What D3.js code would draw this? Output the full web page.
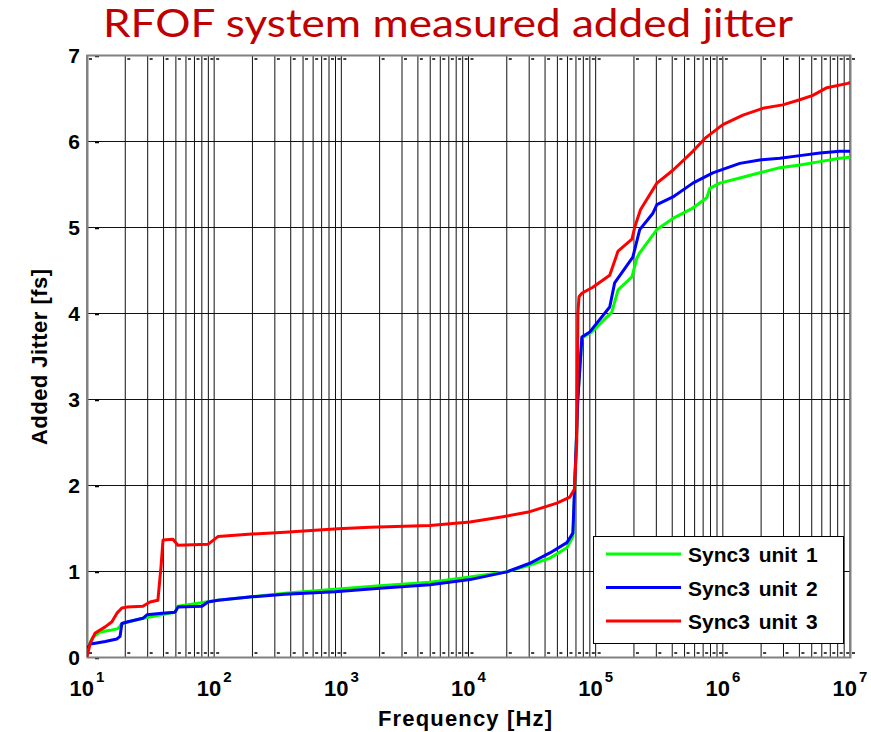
<!DOCTYPE html>
<html>
<head>
<meta charset="utf-8">
<script src="https://cdn.jsdelivr.net/npm/d3@7"></script>
<style>
  body { margin: 0; background: #fff; }
  svg { display: block; }
</style>
</head>
<body>
<div id="chart"></div>
<script>
// Added jitter vs. frequency, three Sync3 units
const seriesNames = ['Sync3 unit 1', 'Sync3 unit 2', 'Sync3 unit 3'];
const seriesColors = ['#00ff00', '#0000ff', '#ff0000'];

// [frequency Hz, added jitter fs]
const unit1 = [
    [10, 0.05], [10.2, 0.12], [11.1, 0.23], [12.7, 0.29], [15.2, 0.31], [17.5, 0.33],
    [18.8, 0.39], [27.5, 0.45], [49.2, 0.52], [51.9, 0.59], [107, 0.66], [198, 0.70],
    [360, 0.74], [940, 0.79], [2010, 0.83], [4980, 0.87], [10260, 0.93], [20040, 0.99],
    [30400, 1.07], [43650, 1.15], [59400, 1.27], [66200, 1.40], [68600, 2.0], [72400, 3.0],
    [77900, 3.71], [93300, 3.78], [134000, 4.01], [150000, 4.27], [193000, 4.42],
    [211000, 4.64], [222000, 4.70], [303000, 4.97], [405000, 5.10], [581000, 5.22],
    [748000, 5.34], [790000, 5.45], [947000, 5.51], [1.36e6, 5.57], [1.95e6, 5.63],
    [2.81e6, 5.69], [4.03e6, 5.72], [5.8e6, 5.76], [8.3e6, 5.80], [1e7, 5.81]
];
const unit2 = [
    [10, 0.10], [10.6, 0.15], [11.6, 0.16], [13.9, 0.18], [17.2, 0.21], [18.2, 0.24],
    [18.8, 0.39], [21.0, 0.41], [27.5, 0.45], [29.6, 0.49], [38.9, 0.51], [49.2, 0.52],
    [51.9, 0.58], [80.2, 0.59], [89.3, 0.64], [107, 0.66], [198, 0.70], [360, 0.73],
    [891, 0.76], [2010, 0.80], [4980, 0.84], [10260, 0.90], [20040, 0.99], [30400, 1.09],
    [43650, 1.21], [59400, 1.33], [66200, 1.44], [68600, 2.06], [72400, 2.99],
    [77900, 3.72], [90000, 3.78], [129000, 4.07], [141000, 4.35], [196000, 4.65],
    [222000, 4.97], [282000, 5.16], [303000, 5.26], [405000, 5.35], [581000, 5.51],
    [834000, 5.63], [1.36e6, 5.74], [1.95e6, 5.78], [2.81e6, 5.80], [4.03e6, 5.83],
    [5.8e6, 5.86], [8.3e6, 5.88], [1e7, 5.88]
];
const unit3 = [
    [10, 0], [10.6, 0.16], [11.6, 0.28], [13.9, 0.35], [15.7, 0.41], [17.2, 0.51],
    [18.8, 0.57], [20.6, 0.58], [27.5, 0.59], [31.3, 0.64], [36.1, 0.66], [38.2, 1.05],
    [39.6, 1.36], [47.4, 1.37], [51.9, 1.30], [89.3, 1.31], [107, 1.40], [198, 1.43],
    [360, 1.45], [940, 1.49], [1680, 1.51], [4980, 1.53], [10260, 1.57], [18620, 1.63],
    [30400, 1.69], [49560, 1.79], [62700, 1.86], [68000, 1.95], [71000, 2.5], [72500, 4.0],
    [74000, 4.19], [77900, 4.23], [95000, 4.30], [129000, 4.44], [150000, 4.72],
    [193000, 4.86], [203000, 5.0], [225000, 5.2], [303000, 5.51], [405000, 5.66],
    [581000, 5.88], [722000, 6.03], [1.0e6, 6.19], [1.44e6, 6.30], [2.06e6, 6.38],
    [2.96e6, 6.42], [4.03e6, 6.48], [5.1e6, 6.53], [6.58e6, 6.62], [9.6e6, 6.67], [1e7, 6.68]
];
const allSeries = [unit1, unit2, unit3];

const yTicks = [0, 1, 2, 3, 4, 5, 6, 7];
const xExponents = [1, 2, 3, 4, 5, 6, 7];

const width = 871, height = 732;
const margin = { top: 55, right: 21, bottom: 75, left: 87 };

const svg = d3.select('#chart').append('svg')
    .attr('width', width)
    .attr('height', height);

const x = d3.scaleLog()
    .domain([10, 1e7])
    .range([margin.left, width - margin.right]);
const y = d3.scaleLinear()
    .domain([0, 7])
    .range([height - margin.bottom, margin.top]);

const x0 = x.range()[0], x1 = x.range()[1];
const y0 = y.range()[0], y1 = y.range()[1];

// minor + major decade positions for the log grid
const gridFreqs = [];
for (let e = 1; e < 7; e++) {
    for (let k = 1; k < 10; k++) gridFreqs.push(k * Math.pow(10, e));
}
gridFreqs.push(1e7);

// Title
svg.append('text')
    .attr('x', 448)
    .attr('y', 37)
    .attr('text-anchor', 'middle')
    .attr('font-family', 'Lato, "Open Sans", sans-serif')
    .attr('font-size', 38)
    .attr('fill', '#c00000')
    .attr('textLength', 690)
    .attr('lengthAdjust', 'spacingAndGlyphs')
    .text('RFOF system measured added jitter');

// Grid
const grid = svg.append('g');
grid.selectAll('.vgrid')
    .data(gridFreqs)
    .enter()
    .append('line')
    .attr('x1', d => x(d))
    .attr('x2', d => x(d))
    .attr('y1', y1)
    .attr('y2', y0)
    .attr('stroke', '#111')
    .attr('stroke-width', 1);
grid.selectAll('.hgrid')
    .data(yTicks)
    .enter()
    .append('line')
    .attr('x1', x0)
    .attr('x2', x1)
    .attr('y1', d => Math.round(y(d)) + 0.5)
    .attr('y2', d => Math.round(y(d)) + 0.5)
    .attr('stroke', '#111')
    .attr('stroke-width', 1);

// small inner tick marks (matlab style)
grid.selectAll('.btick')
    .data(gridFreqs)
    .enter()
    .append('line')
    .attr('x1', d => x(d) + 2)
    .attr('x2', d => x(d) + 5)
    .attr('y1', y0 - 4)
    .attr('y2', y0 - 4)
    .attr('stroke', '#000')
    .attr('stroke-width', 1.5);
grid.selectAll('.ttick')
    .data(gridFreqs)
    .enter()
    .append('line')
    .attr('x1', d => x(d) + 2)
    .attr('x2', d => x(d) + 5)
    .attr('y1', y1 + 4)
    .attr('y2', y1 + 4)
    .attr('stroke', '#000')
    .attr('stroke-width', 1.5);
grid.selectAll('.ltick')
    .data(yTicks)
    .enter()
    .append('line')
    .attr('x1', x0 + 8)
    .attr('x2', x0 + 12)
    .attr('y1', d => y(d) + 1.5)
    .attr('y2', d => y(d) + 1.5)
    .attr('stroke', '#000')
    .attr('stroke-width', 1.5);

// Frame
svg.append('rect')
    .attr('x', x0 + 0.5)
    .attr('y', y1 + 0.5)
    .attr('width', x1 - x0)
    .attr('height', y0 - y1)
    .attr('fill', 'none')
    .attr('stroke', '#808080')
    .attr('stroke-width', 2);

// Curves
svg.append('clipPath').attr('id', 'plot-clip')
    .append('rect')
    .attr('x', x0).attr('y', y1 - 2)
    .attr('width', x1 - x0 + 2).attr('height', y0 - y1 + 4);

const line = d3.line()
    .x(d => x(d[0]))
    .y(d => y(d[1]));

allSeries.forEach((s, i) => {
    svg.append('path')
        .datum(s)
        .attr('clip-path', 'url(#plot-clip)')
        .attr('d', line)
        .attr('fill', 'none')
        .attr('stroke', seriesColors[i])
        .attr('stroke-width', 3)
        .attr('stroke-linejoin', 'round');
});

// Y tick labels
svg.selectAll('.ylab')
    .data(yTicks)
    .enter()
    .append('text')
    .attr('x', x0 - 7)
    .attr('y', d => y(d) + 8)
    .attr('text-anchor', 'end')
    .attr('font-family', '"Liberation Sans", Arial, sans-serif')
    .attr('font-weight', 'bold')
    .attr('font-size', 21)
    .attr('fill', '#000')
    .text(d => d);

// X tick labels 10^n
const xl = svg.selectAll('.xlab')
    .data(xExponents)
    .enter()
    .append('text')
    .attr('x', d => x(Math.pow(10, d)))
    .attr('y', 696)
    .attr('text-anchor', 'middle')
    .attr('font-family', '"Liberation Sans", Arial, sans-serif')
    .attr('font-weight', 'bold')
    .attr('font-size', 22)
    .attr('fill', '#000');
xl.append('tspan').text('10');
xl.append('tspan')
    .attr('font-size', 15)
    .attr('dx', 2)
    .attr('dy', -14)
    .text(d => d);

// Axis titles
svg.append('text')
    .attr('x', 465)
    .attr('y', 726)
    .attr('text-anchor', 'middle')
    .attr('font-family', '"Liberation Sans", Arial, sans-serif')
    .attr('font-weight', 'bold')
    .attr('font-size', 22)
    .attr('textLength', 174)
    .attr('fill', '#000')
    .text('Frequency [Hz]');
svg.append('text')
    .attr('transform', 'translate(47,357) rotate(-90)')
    .attr('text-anchor', 'middle')
    .attr('font-family', '"Liberation Sans", Arial, sans-serif')
    .attr('font-weight', 'bold')
    .attr('font-size', 22)
    .attr('textLength', 176)
    .attr('fill', '#000')
    .text('Added Jitter [fs]');

// Legend
const legend = svg.append('g').attr('transform', 'translate(593,536)');
legend.append('rect')
    .attr('x', 0.5).attr('y', 0.5)
    .attr('width', 250).attr('height', 107)
    .attr('fill', '#fff')
    .attr('stroke', '#000')
    .attr('stroke-width', 1);
seriesNames.forEach((name, i) => {
    const ly = 18 + i * 33.5;
    legend.append('line')
        .attr('x1', 13).attr('x2', 88)
        .attr('y1', ly).attr('y2', ly)
        .attr('stroke', seriesColors[i])
        .attr('stroke-width', 3);
    legend.append('text')
        .attr('x', 95)
        .attr('y', ly + 8)
        .attr('font-family', '"Liberation Sans", Arial, sans-serif')
        .attr('font-weight', 'bold')
        .attr('font-size', 21)
        .attr('word-spacing', 3)
        .attr('fill', '#000')
        .text(name);
});
</script>
</body>
</html>
